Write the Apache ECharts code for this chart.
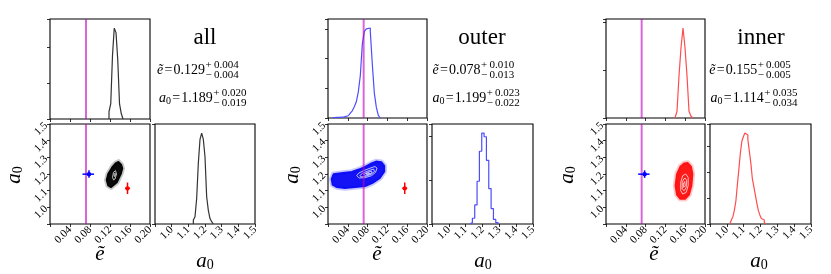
<!DOCTYPE html>
<html><head><meta charset="utf-8">
<script src="https://cdn.jsdelivr.net/npm/echarts@6/dist/echarts.min.js"></script>
<style>html,body{margin:0;padding:0;background:#fff}#c{width:831px;height:274px}</style>
</head><body><div id="c"></div>
<script>
// ---------------- data ----------------
const panelNames = ['all', 'outer', 'inner'];
const eMedian = [0.129, 0.078, 0.155];
const ePlus = [0.004, 0.010, 0.005];
const eMinus = [0.004, 0.013, 0.005];
const aMedian = [1.189, 1.199, 1.114];
const aPlus = [0.020, 0.023, 0.035];
const aMinus = [0.019, 0.022, 0.034];
const eReference = 0.072;

// e histograms (normalised to peak = 1)
const eHistStart = [0.118, 0.0087, 0.1394];
const eHistWidth = [0.0035, 0.00404, 0.00404];
const eHistAll = [0.08, 0.17, 0.70, 1.0, 0.95, 0.65, 0.17, 0.06];
const eHistOuter = [0.004, 0.006, 0.007, 0.008, 0.010, 0.012, 0.018, 0.025, 0.033, 0.055, 0.08, 0.125, 0.18, 0.29, 0.47, 0.82, 0.96, 0.99, 1.0, 0.96, 0.6, 0.28, 0.12, 0.03];
const eHistInner = [0.02, 0.075, 0.47, 0.78, 1.0, 0.78, 0.47, 0.075, 0.02];
// a0 histograms
const aHistStart = [1.13, 1.126, 1.018];
const aHistWidth = [0.01, 0.0139, 0.0089];
const aHistAll = [0.044, 0.08, 0.28, 0.67, 0.93, 1.0, 0.93, 0.74, 0.3, 0.15, 0.06, 0.025];
const aHistOuter = [0.015, 0.063, 0.21, 0.47, 0.8, 1.0, 0.96, 0.7, 0.39, 0.17, 0.05, 0.015];
const aHistInner = [0.015, 0.044, 0.08, 0.15, 0.25, 0.43, 0.6, 0.78, 0.91, 0.96, 1.0, 0.98, 0.93, 0.8, 0.67, 0.5, 0.41, 0.32, 0.23, 0.15, 0.1, 0.06, 0.044, 0.015];

// 2D sample clouds: outlines (e, a0)
const cloudAll = [[0.137,1.274],[0.143,1.255],[0.145,1.234],[0.142,1.2],[0.134,1.15],[0.122,1.12],[0.116,1.13],[0.113,1.164],[0.116,1.2],[0.124,1.24],[0.131,1.265]];
const cloudOuter = [[0.007,1.17],[0.011,1.2],[0.03,1.207],[0.048,1.214],[0.062,1.228],[0.075,1.244],[0.088,1.265],[0.097,1.276],[0.108,1.272],[0.114,1.25],[0.114,1.214],[0.105,1.175],[0.09,1.145],[0.075,1.126],[0.055,1.12],[0.034,1.114],[0.018,1.12],[0.009,1.135]];
const cloudInner = [[0.165,1.268],[0.172,1.245],[0.175,1.2],[0.173,1.13],[0.168,1.075],[0.16,1.05],[0.15,1.05],[0.143,1.075],[0.14,1.13],[0.143,1.2],[0.15,1.245],[0.158,1.265]];
// white contour levels
const contoursAll = [
  [[0.131,1.22],[0.133,1.2],[0.130,1.17],[0.127,1.165],[0.125,1.18],[0.127,1.21]],
  [[0.130,1.205],[0.131,1.195],[0.129,1.185],[0.128,1.195]]
];
const contoursOuter = [
  [[0.058,1.19],[0.062,1.205],[0.072,1.22],[0.085,1.235],[0.095,1.245],[0.099,1.235],[0.096,1.21],[0.088,1.19],[0.075,1.178],[0.063,1.176]],
  [[0.064,1.19],[0.07,1.205],[0.082,1.22],[0.092,1.23],[0.094,1.215],[0.087,1.198],[0.076,1.186],[0.067,1.183]],
  [[0.072,1.198],[0.08,1.21],[0.088,1.218],[0.089,1.207],[0.082,1.197],[0.075,1.192]],
  [[0.077,1.202],[0.083,1.208],[0.084,1.203],[0.079,1.199]]
];
const contoursInner = [
  [[0.161,1.2],[0.166,1.18],[0.166,1.13],[0.162,1.09],[0.155,1.08],[0.151,1.1],[0.151,1.15],[0.155,1.19]],
  [[0.16,1.175],[0.163,1.16],[0.162,1.12],[0.158,1.1],[0.154,1.11],[0.154,1.15],[0.157,1.17]],
  [[0.159,1.155],[0.16,1.13],[0.157,1.12],[0.156,1.14]]
];
// which result crosses appear in each panel (index into results: 1 = outer/blue, 2 = inner/red)
const crossesInPanel = [[1, 2], [2], [1]];

// ---------------- style / layout ----------------
const FONT = '"Liberation Serif", "Times New Roman", serif';
const histColors = ['#333333', '#4d4dff', '#ff4d4d'];
const cloudColors = ['#000000', '#0a0af5', '#ff1010'];
const crossColors = ['#000', '#0000ff', '#ff0000'];
const gridRects = [
  [50, 19, 100, 100], [50, 124, 100, 100], [155, 124, 100, 100],
  [328, 19, 99, 99], [328, 124, 99, 100], [432, 124, 101, 100],
  [606, 19, 99, 99], [606, 124, 99, 100], [710, 124, 101, 100]
];
const topTickInterval = [0.396, 0.33, 0.53];
const rightTickInterval = [2, 0.48, 0.286];
const textLayout = [
  {title: 205, eSup: 205.5, aSup: 213.3, eLab: 100, aLab: 205, yLab: 14},
  {title: 482, eSup: 481, aSup: 486.7, eLab: 377, aLab: 483, yLab: 292},
  {title: 761, eSup: 757.7, aSup: 764.3, eLab: 654, aLab: 759, yLab: 567}
];

const eHists = [eHistAll, eHistOuter, eHistInner];
const aHists = [aHistAll, aHistOuter, aHistInner];
const clouds = [cloudAll, cloudOuter, cloudInner];
const contours = [contoursAll, contoursOuter, contoursInner];

function histPoints(start, width, counts) {
  const pts = [[start, 0]];
  counts.forEach((c, i) => { pts.push([start + i * width, c]); pts.push([start + (i + 1) * width, c]); });
  pts.push([start + counts.length * width, 0]);
  return pts;
}

const grid = gridRects.map(r => ({left: r[0], top: r[1], width: r[2], height: r[3], show: true, borderColor: '#000', borderWidth: 1.1, backgroundColor: 'transparent', containLabel: false}));

const tick = {show: true, inside: false, length: 3, lineStyle: {color: '#000', width: 0.8}};
const lab = {show: true, rotate: 45, margin: 4, fontFamily: FONT, fontSize: 11, color: '#000', showMinLabel: true, showMaxLabel: true};
const xAxis = [], yAxis = [];
for (let p = 0; p < 3; p++) {
  const g = p * 3;
  xAxis.push({type: 'value', gridIndex: g, min: 0, max: 0.2, interval: 0.04, axisLine: {show: false}, axisTick: tick, axisLabel: {show: false}, splitLine: {show: false}});
  yAxis.push({type: 'value', gridIndex: g, min: 0, max: 1.1, interval: topTickInterval[p], axisLine: {show: false}, axisTick: tick, axisLabel: {show: false}, splitLine: {show: false}});
  xAxis.push({type: 'value', gridIndex: g + 1, min: 0, max: 0.2, interval: 0.04, axisLine: {show: false}, axisTick: tick, splitLine: {show: false},
    axisLabel: Object.assign({}, lab, {formatter: v => v < 0.01 ? '' : v.toFixed(2)})});
  yAxis.push({type: 'value', gridIndex: g + 1, min: 0.9, max: 1.5, interval: 0.1, axisLine: {show: false}, axisTick: tick, splitLine: {show: false},
    axisLabel: Object.assign({}, lab, {formatter: v => v < 0.95 ? '' : v.toFixed(1)})});
  xAxis.push({type: 'value', gridIndex: g + 2, min: 0.9, max: 1.5, interval: 0.1, axisLine: {show: false}, axisTick: tick, splitLine: {show: false},
    axisLabel: Object.assign({}, lab, {formatter: v => v < 0.95 ? '' : v.toFixed(1)})});
  yAxis.push({type: 'value', gridIndex: g + 2, min: 0, max: 1.1, interval: rightTickInterval[p], axisLine: {show: false}, axisTick: tick, axisLabel: {show: false}, splitLine: {show: false}});
}

function polygonSeries(axisIdx, pts, style, z) {
  return {type: 'custom', xAxisIndex: axisIdx, yAxisIndex: axisIdx, silent: true, animation: false, z: z, clip: true,
    data: [pts[0]],
    renderItem: (params, api) => ({type: 'polygon', shape: {points: pts.map(q => api.coord(q))}, style: style})};
}

const series = [];
for (let p = 0; p < 3; p++) {
  const g = p * 3;
  series.push({type: 'line', xAxisIndex: g, yAxisIndex: g, data: histPoints(eHistStart[p], eHistWidth[p], eHists[p]), symbol: 'none', animation: false, silent: true, lineStyle: {color: histColors[p], width: 1.2}, z: 3});
  series.push({type: 'line', xAxisIndex: g + 2, yAxisIndex: g + 2, data: histPoints(aHistStart[p], aHistWidth[p], aHists[p]), symbol: 'none', animation: false, silent: true, lineStyle: {color: histColors[p], width: 1.2}, z: 3});
  series.push(polygonSeries(g + 1, clouds[p], {fill: cloudColors[p], stroke: cloudColors[p], lineWidth: 5, opacity: 0.22, lineJoin: 'round'}, 2));
  series.push(polygonSeries(g + 1, clouds[p], {fill: cloudColors[p], stroke: cloudColors[p], lineWidth: 1.5, opacity: 0.95, lineJoin: 'round'}, 3));
  contours[p].forEach(c => series.push(polygonSeries(g + 1, c, {fill: 'none', stroke: '#ffffff', lineWidth: 0.8, opacity: 0.9}, 4)));
  series.push({type: 'line', xAxisIndex: g, yAxisIndex: g, data: [[eReference, 0], [eReference, 1.1]], symbol: 'none', animation: false, silent: true, lineStyle: {color: '#bf00bf', opacity: 0.6, width: 2}, z: 5});
  series.push({type: 'line', xAxisIndex: g + 1, yAxisIndex: g + 1, data: [[eReference, 0.9], [eReference, 1.5]], symbol: 'none', animation: false, silent: true, lineStyle: {color: '#bf00bf', opacity: 0.6, width: 2}, z: 5});
  crossesInPanel[p].forEach(k => {
    series.push({type: 'custom', xAxisIndex: g + 1, yAxisIndex: g + 1, silent: true, animation: false, z: 6,
      data: [[eMedian[k], aMedian[k], eMinus[k], ePlus[k], aMinus[k], aPlus[k]]],
      renderItem: (params, api) => {
        const x = api.value(0), y = api.value(1);
        const c = api.coord([x, y]);
        const l = api.coord([x - api.value(2), y]), r = api.coord([x + api.value(3), y]);
        const b = api.coord([x, y - api.value(4)]), t = api.coord([x, y + api.value(5)]);
        const st = {stroke: crossColors[k], lineWidth: 1.5};
        return {type: 'group', children: [
          {type: 'line', shape: {x1: l[0], y1: l[1], x2: r[0], y2: r[1]}, style: st},
          {type: 'line', shape: {x1: b[0], y1: b[1], x2: t[0], y2: t[1]}, style: st},
          {type: 'circle', shape: {cx: c[0], cy: c[1], r: 2.2}, style: {fill: crossColors[k]}}
        ]};
      }});
  });
}

// ---------------- text ----------------
const graphic = [];
const mainRich = {
  i: {fontFamily: FONT, fontStyle: 'italic', fontSize: 14, lineHeight: 16, verticalAlign: 'middle'},
  s: {fontFamily: FONT, fontSize: 10, lineHeight: 8, verticalAlign: 'bottom'},
  n: {fontFamily: FONT, fontSize: 14, lineHeight: 16, verticalAlign: 'middle'}
};
const labRich = {
  i: {fontFamily: FONT, fontStyle: 'italic', fontSize: 21, lineHeight: 22, verticalAlign: 'middle'},
  s: {fontFamily: FONT, fontSize: 14, lineHeight: 10, verticalAlign: 'bottom'}
};
for (let p = 0; p < 3; p++) {
  const L = textLayout[p];
  graphic.push({type: 'text', x: L.title, y: 38, silent: true, style: {text: panelNames[p], font: '23px ' + FONT, fill: '#000', align: 'center', verticalAlign: 'middle'}});
  graphic.push({type: 'text', x: L.eSup - 0.5, y: 70, silent: true, style: {text: '{i|ẽ}{n|\u200a=\u200a' + eMedian[p].toFixed(3) + '}', rich: mainRich, fill: '#000', align: 'right', verticalAlign: 'middle'}});
  graphic.push({type: 'text', x: L.eSup, y: 70, silent: true, style: {text: '+\u20090.' + ePlus[p].toFixed(3).slice(2) + '\n\u2212\u20090.' + eMinus[p].toFixed(3).slice(2), font: '11px ' + FONT, lineHeight: 10, fill: '#000', align: 'left', verticalAlign: 'middle'}});
  graphic.push({type: 'text', x: L.aSup - 0.5, y: 98, silent: true, style: {text: '{i|a}{s|0}{n|\u200a=\u200a' + aMedian[p].toFixed(3) + '}', rich: mainRich, fill: '#000', align: 'right', verticalAlign: 'middle'}});
  graphic.push({type: 'text', x: L.aSup, y: 98, silent: true, style: {text: '+\u20090.' + aPlus[p].toFixed(3).slice(2) + '\n\u2212\u20090.' + aMinus[p].toFixed(3).slice(2), font: '11px ' + FONT, lineHeight: 10, fill: '#000', align: 'left', verticalAlign: 'middle'}});
  graphic.push({type: 'text', x: L.eLab, y: 254, silent: true, style: {text: 'ẽ', font: 'italic 21px ' + FONT, fill: '#000', align: 'center', verticalAlign: 'middle'}});
  graphic.push({type: 'text', x: L.aLab, y: 261, silent: true, style: {text: '{i|a}{s|0}', rich: labRich, fill: '#000', align: 'center', verticalAlign: 'middle'}});
  graphic.push({type: 'text', x: L.yLab, y: 175, rotation: Math.PI / 2, silent: true, style: {text: '{i|a}{s|0}', rich: labRich, fill: '#000', align: 'center', verticalAlign: 'middle'}});
}

const chart = echarts.init(document.getElementById('c'), null, {renderer: 'canvas'});
chart.setOption({animation: false, backgroundColor: '#fff', grid, xAxis, yAxis, series, graphic});
</script>
</body></html>
